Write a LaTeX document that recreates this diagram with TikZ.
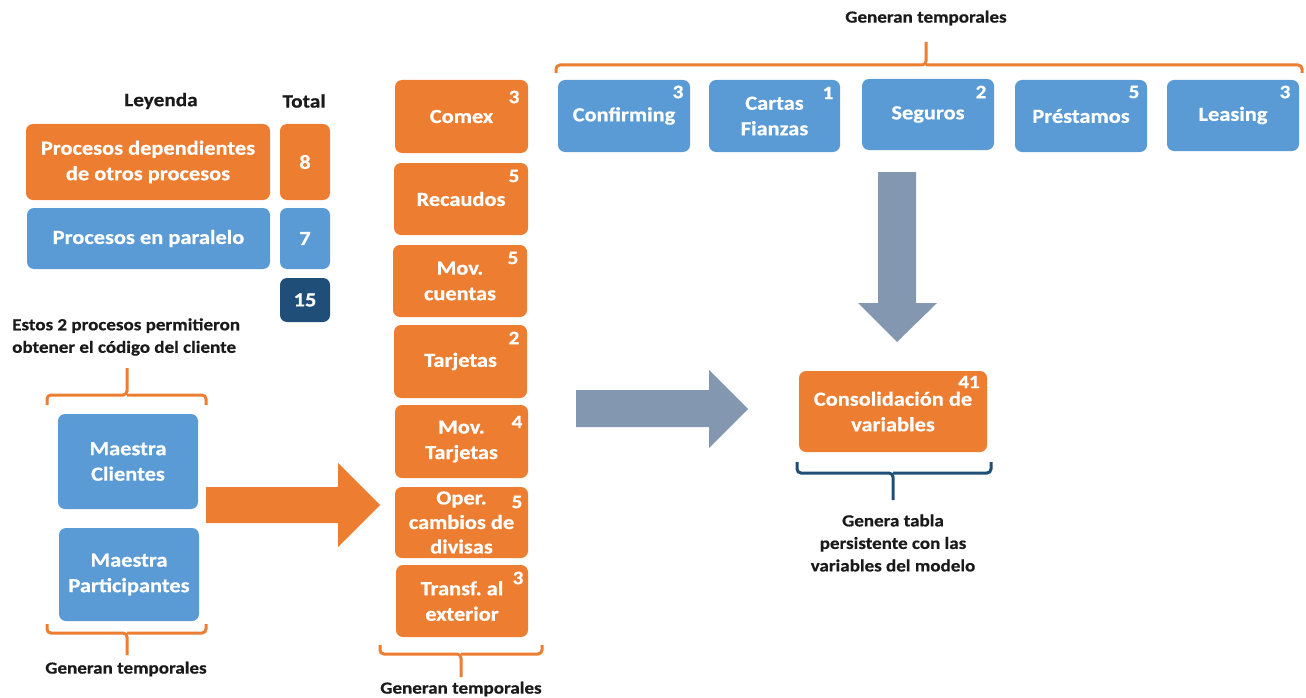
\documentclass[tikz,border=0pt]{standalone}
\usepackage{fontspec}
\setmainfont{Carlito}[FakeStretch=1.12, BoldFeatures={FakeBold=0.6}]
\definecolor{cOrange}{HTML}{ED7D31}
\definecolor{cBlue}{HTML}{5B9BD5}
\definecolor{cNavy}{HTML}{1F4E79}
\definecolor{cGrey}{HTML}{8497B0}
\definecolor{cText}{HTML}{1A1A1A}
% process box given by its corners: name, style, x1, y1, x2, y2, text
\newcommand{\procbox}[7]{%
  \node[#2, minimum width={(#5)-(#3)}, minimum height={(#6)-(#4)}]
    (#1) at ({((#3)+(#5))/2},{((#4)+(#6))/2}) {#7};}
\begin{document}
\frenchspacing
\begin{tikzpicture}[x=1pt,y=-1pt,
  box/.style={rounded corners=7pt, inner sep=0pt, align=center, text=white,
    font=\bfseries\fontsize{20}{25.5}\selectfont},
  obox/.style={box, fill=cOrange},
  bbox/.style={box, fill=cBlue},
  nbox/.style={box, fill=cNavy},
  num/.style={text=white, inner sep=0pt, font=\bfseries\fontsize{19}{20}\selectfont},
  lbl/.style={text=cText, inner sep=0pt, align=center,
    font=\bfseries\fontsize{17}{22.5}\selectfont},
  head/.style={text=cText, inner sep=0pt, font=\bfseries\fontsize{19}{22}\selectfont},
  brace/.style={line width=3pt, rounded corners=4pt},
]
\useasboundingbox (0,0) rectangle (1306,698);

% ---------- legend ----------
\node[head] (leyenda) at (161,101) {Leyenda};
\node[head] (total) at (304,101) {Total};
\procbox{legdep}{obox}{26}{124}{270}{200}{Procesos dependientes\\de otros procesos}
\procbox{tot8}{obox}{280}{124}{330}{200}{8}
\procbox{legpar}{bbox}{27}{208}{270}{269}{Procesos en paralelo}
\procbox{tot7}{bbox}{280}{208}{330}{269}{7}
\procbox{tot15}{nbox}{280}{278}{330}{322}{15}

% ---------- master tables ----------
\node[lbl, align=left, anchor=west] (estos) at (12,337)
  {Estos 2 procesos permitieron\\obtener el código del cliente};
\draw[brace, cOrange] (47,405) -- (47,395) -- (127,395) -- (127,368);
\draw[brace, cOrange] (127,395) -- (206,395) -- (206,405);
\procbox{mcli}{bbox}{58}{414}{198}{509}{Maestra\\Clientes}
\procbox{mpar}{bbox}{59}{528}{199}{621}{Maestra\\Participantes}
\draw[brace, cOrange] (47,624) -- (47,633) -- (127,633) -- (127,655);
\draw[brace, cOrange] (127,633) -- (206,633) -- (206,624);
\node[lbl] (gen1) at (126,669) {Generan temporales};

% orange block arrow into the dependent processes
\fill[cOrange] (206,487) -- (338,487) -- (338,463) -- (380,505) -- (338,547)
  -- (338,523) -- (206,523) -- cycle;

% ---------- dependent processes ----------
\procbox{comex}{obox}{395}{80}{528}{153}{Comex}
\node[num] (ncomex) at (514,97) {3};
\procbox{recaudos}{obox}{394}{163}{528}{235}{Recaudos}
\node[num] (nrecaudos) at (514,176) {5};
\procbox{movcta}{obox}{393}{245}{527}{317}{Mov.\\cuentas}
\node[num] (nmovcta) at (513,258) {5};
\procbox{tarjetas}{obox}{394}{325}{527}{398}{Tarjetas}
\node[num] (ntarjetas) at (514,338) {2};
\procbox{movtarj}{obox}{395}{405}{528}{478}{Mov.\\Tarjetas}
\node[num] (nmovtarj) at (517,422) {4};
\procbox{oper}{obox}{395}{487}{528}{558}{Oper.\\[-1pt]cambios de\\[-1pt]divisas}
\node[num] (noper) at (517,502) {5};
\procbox{transf}{obox}{396}{565}{528}{637}{Transf. al\\exterior}
\node[num] (ntransf) at (518,578) {3};
\draw[brace, cOrange] (380,645) -- (380,654) -- (461,654) -- (461,677);
\draw[brace, cOrange] (461,654) -- (542,654) -- (542,645);
\node[lbl] (gen2) at (461,689) {Generan temporales};

% ---------- parallel processes ----------
\node[lbl] (gen3) at (926,18) {Generan temporales};
\draw[brace, cOrange] (556,73) -- (556,65) -- (926,65) -- (926,42);
\draw[brace, cOrange] (926,65) -- (1302,65) -- (1302,73);
\procbox{confirming}{bbox}{558}{80}{690}{152}{Confirming}
\node[num] (nconfirming) at (678,92) {3};
\procbox{cartas}{bbox}{709}{80}{840}{152}{Cartas\\Fianzas}
\node[num] (ncartas) at (828,93) {1};
\procbox{seguros}{bbox}{862}{79}{994}{150}{Seguros}
\node[num] (nseguros) at (981,92) {2};
\procbox{prestamos}{bbox}{1015}{80}{1147}{152}{Préstamos}
\node[num] (nprestamos) at (1134,92) {5};
\procbox{leasing}{bbox}{1167}{80}{1299}{151}{Leasing}
\node[num] (nleasing) at (1285,92) {3};

% grey block arrows into the consolidation
\fill[cGrey] (878,172) -- (916,172) -- (916,303) -- (937,303) -- (897,342)
  -- (858,303) -- (878,303) -- cycle;
\fill[cGrey] (576,390) -- (709,390) -- (709,370) -- (748,409) -- (709,448)
  -- (709,427) -- (576,427) -- cycle;

% ---------- consolidation ----------
\procbox{consol}{obox}{799}{371}{987}{452}{\raisebox{-9pt}{\parbox{186pt}{\centering Consolidación de\\variables}}}
\node[num] (nconsol) at (969,382) {41};
\draw[brace, cNavy] (797,462) -- (797,473) -- (893,473) -- (893,500);
\draw[brace, cNavy] (893,473) -- (991,473) -- (991,462);
\node[lbl] (genera) at (893,543) {Genera tabla\\persistente con las\\variables del modelo};
\end{tikzpicture}
\end{document}
